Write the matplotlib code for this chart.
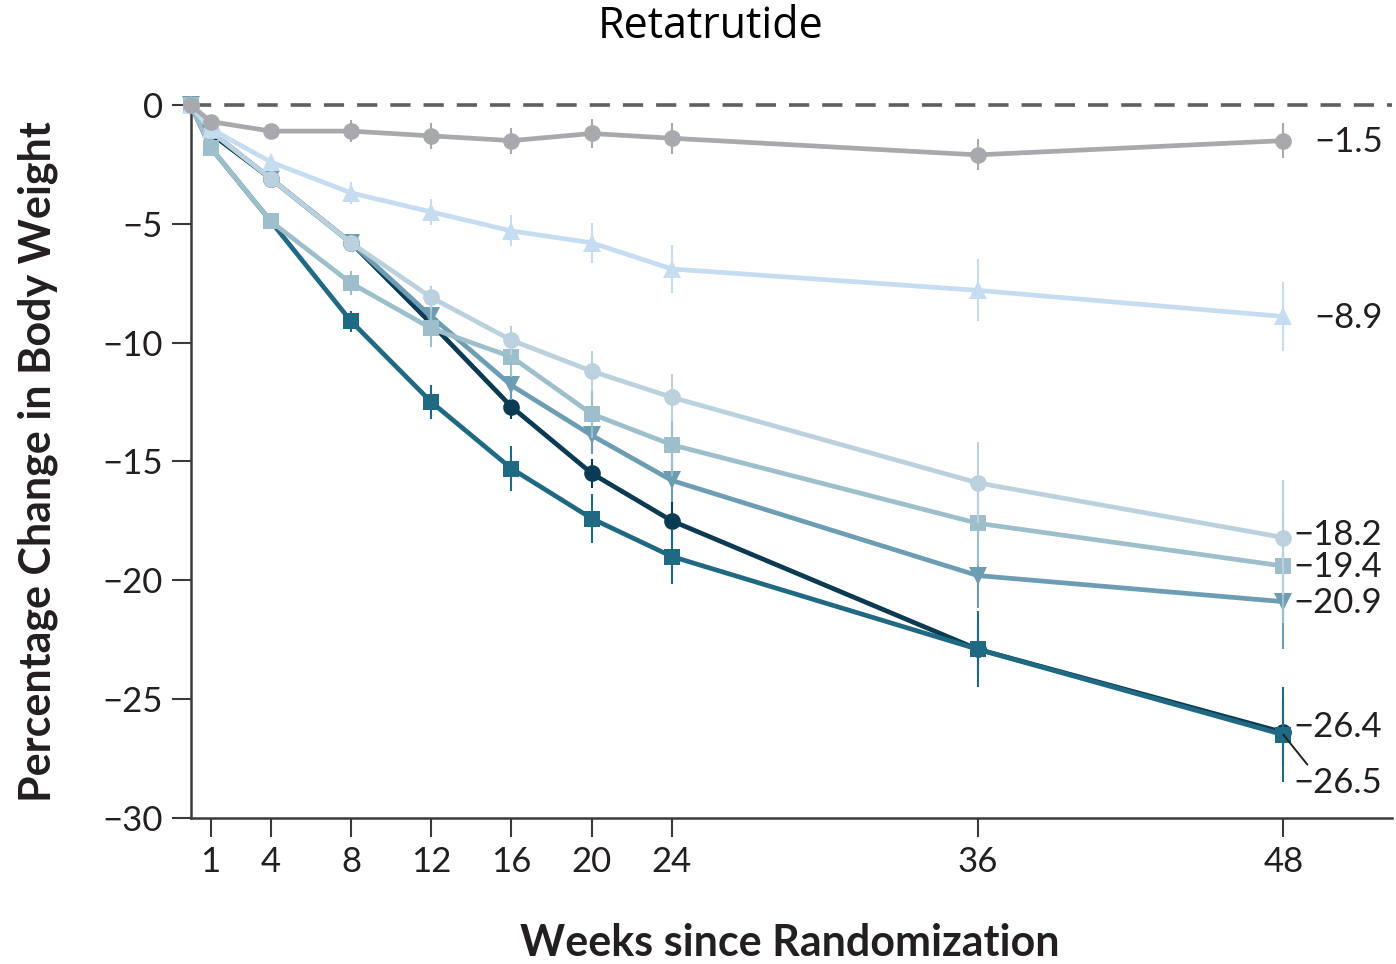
import numpy as np
import matplotlib
matplotlib.use("Agg")
import matplotlib.pyplot as plt

plt.rcParams['font.family'] = ['Lato', 'DejaVu Sans']
plt.rcParams['axes.unicode_minus'] = True

# ---------------- data ----------------
weeks = [0, 1, 4, 8, 12, 16, 20, 24, 36, 48]
xtick_weeks = [1, 4, 8, 12, 16, 20, 24, 36, 48]
ytick_values = [0, -5, -10, -15, -20, -25, -30]

placebo = [0, -0.7, -1.1, -1.1, -1.3, -1.5, -1.2, -1.4, -2.1, -1.5]
placebo_err = [0, 0.15, 0.25, 0.45, 0.55, 0.55, 0.6, 0.65, 0.65, 0.75]

ret_1mg = [0, -1.0, -2.4, -3.7, -4.5, -5.3, -5.8, -6.9, -7.8, -8.9]
ret_1mg_err = [0, 0.15, 0.3, 0.45, 0.55, 0.65, 0.85, 1.0, 1.3, 1.45]

ret_a = [0, -1.1, -3.1, -5.8, -8.1, -9.9, -11.2, -12.3, -15.9, -18.2]
ret_a_err = [0, 0.15, 0.3, 0.35, 0.5, 0.6, 0.85, 1.0, 1.7, 2.4]

ret_b = [0, -1.8, -4.9, -7.5, -9.4, -10.6, -13.0, -14.3, -17.6, -19.4]
ret_b_err = [0, 0.2, 0.3, 0.5, 0.8, 0.85, 1.0, 1.3, 1.8, 2.4]

ret_c = [0, -1.1, -3.1, -5.8, -8.9, -11.8, -13.9, -15.8, -19.8, -20.9]
ret_c_err = [0, 0.15, 0.3, 0.35, 0.5, 0.6, 0.8, 0.9, 1.35, 2.0]

ret_d = [0, -1.2, -3.1, -5.8, -9.2, -12.7, -15.5, -17.5, -22.9, -26.4]
ret_d_err = [0, 0.15, 0.3, 0.35, 0.5, 0.5, 0.6, 0.9, 1.1, 1.4]

ret_e = [0, -1.8, -4.9, -9.1, -12.5, -15.3, -17.4, -19.0, -22.9, -26.5]
ret_e_err = [0, 0.2, 0.3, 0.45, 0.7, 0.95, 1.05, 1.15, 1.6, 2.0]

# drawing order bottom -> top
series = [
    (ret_d, ret_d_err, '#0b3a53', 'o', 12),
    (ret_e, ret_e_err, '#1f6a82', 's', 11.5),
    (ret_c, ret_c_err, '#6c9db3', 'v', 13),
    (ret_b, ret_b_err, '#9dbecb', 's', 11.5),
    (ret_a, ret_a_err, '#bcd1de', 'o', 12),
    (ret_1mg, ret_1mg_err, '#c6ddf1', '^', 13),
    (placebo, placebo_err, '#a7a9ac', 'o', 12),
]

# ---------------- figure ----------------
fig = plt.figure(figsize=(13.96, 9.64), dpi=100)
ax = fig.add_axes([0.1366, 0.1515, 0.8605, 0.7396])

K = 25.48 / 20.05  # later weeks drawn wider in the original


def fwd(x):
    x = np.asarray(x, dtype=float)
    return np.where(x <= 24, x, 24 + (x - 24) * K)


def inv(y):
    y = np.asarray(y, dtype=float)
    return np.where(y <= 24, y, 24 + (y - 24) / K)


ax.set_xscale('function', functions=(fwd, inv))
ax.set_xlim(0, 52.26)
ax.set_ylim(-30, 0)

ax.axhline(0, color='#5f5f5f', lw=2.6, ls=(0, (5.6, 3.6)), zorder=1, clip_on=False)

for i, (vals, errs, col, mk, ms) in enumerate(series):
    ax.errorbar(weeks, vals, yerr=errs, color=col, ecolor=col, lw=3.4,
                elinewidth=1.5, capsize=5.2, capthick=1.6, marker=mk,
                markersize=ms, markeredgewidth=0, zorder=3 + i, clip_on=False)

# end-of-line value labels
label_color = '#231f20'
lab_fs = 25


def lab(v):
    return '\u2212' + f'{abs(v):.1f}'


ax.annotate(lab(placebo[-1]), (48, placebo[-1]), xytext=(22, -1), textcoords='offset points',
            ha='left', va='center', fontsize=lab_fs, color=label_color, annotation_clip=False)
ax.annotate(lab(ret_1mg[-1]), (48, ret_1mg[-1]), xytext=(22, -1), textcoords='offset points',
            ha='left', va='center', fontsize=lab_fs, color=label_color, annotation_clip=False)
for vals, dy in ((ret_a, 1.5), (ret_b, -0.5), (ret_c, -1)):
    ax.annotate(lab(vals[-1]), (48, vals[-1]), xytext=(7, dy), textcoords='offset points',
                ha='left', va='center', fontsize=lab_fs, color=label_color, annotation_clip=False)
ax.annotate(lab(ret_d[-1]), (48, ret_d[-1]), xytext=(7, 4), textcoords='offset points',
            ha='left', va='center', fontsize=lab_fs, color=label_color, annotation_clip=False,
            zorder=20)
ax.annotate(lab(ret_e[-1]), (48, ret_e[-1]), xytext=(7, -35), textcoords='offset points',
            ha='left', va='center', fontsize=lab_fs, color=label_color, annotation_clip=False,
            zorder=20,
            arrowprops=dict(arrowstyle='-', color='#231f20', lw=1.4, shrinkA=0, shrinkB=0,
                            relpos=(0.2, 0.95)))

# axes styling
for s in ('top', 'right'):
    ax.spines[s].set_visible(False)
for s in ('left', 'bottom'):
    ax.spines[s].set_color('#3a3a3a')
    ax.spines[s].set_linewidth(1.8)

ax.set_xticks(xtick_weeks)
ax.set_xticklabels([str(w) for w in xtick_weeks])
ax.xaxis.set_minor_locator(matplotlib.ticker.NullLocator())
ax.set_yticks(ytick_values)
ax.set_yticklabels([('\u2212' + str(abs(v))) if v < 0 else str(v) for v in ytick_values])
ax.tick_params(axis='both', which='major', direction='out', length=14, width=1.5,
               color='#3a3a3a', labelsize=25, labelcolor=label_color, pad=6)

fig.text(711 / 1396, 1 - 27 / 964, 'Retatrutide', ha='center', va='center',
         fontsize=31, family=['Open Sans', 'DejaVu Sans'], color='black')
fig.text(38 / 1396, 1 - 462 / 964, 'Percentage Change in Body Weight', ha='center',
         va='center', rotation=90, fontsize=31, fontweight='bold', color=label_color)
fig.text(790 / 1396, 1 - 943 / 964, 'Weeks since Randomization', ha='center',
         va='center', fontsize=31, fontweight='bold', color=label_color)

fig.savefig('out.png', dpi=100)
